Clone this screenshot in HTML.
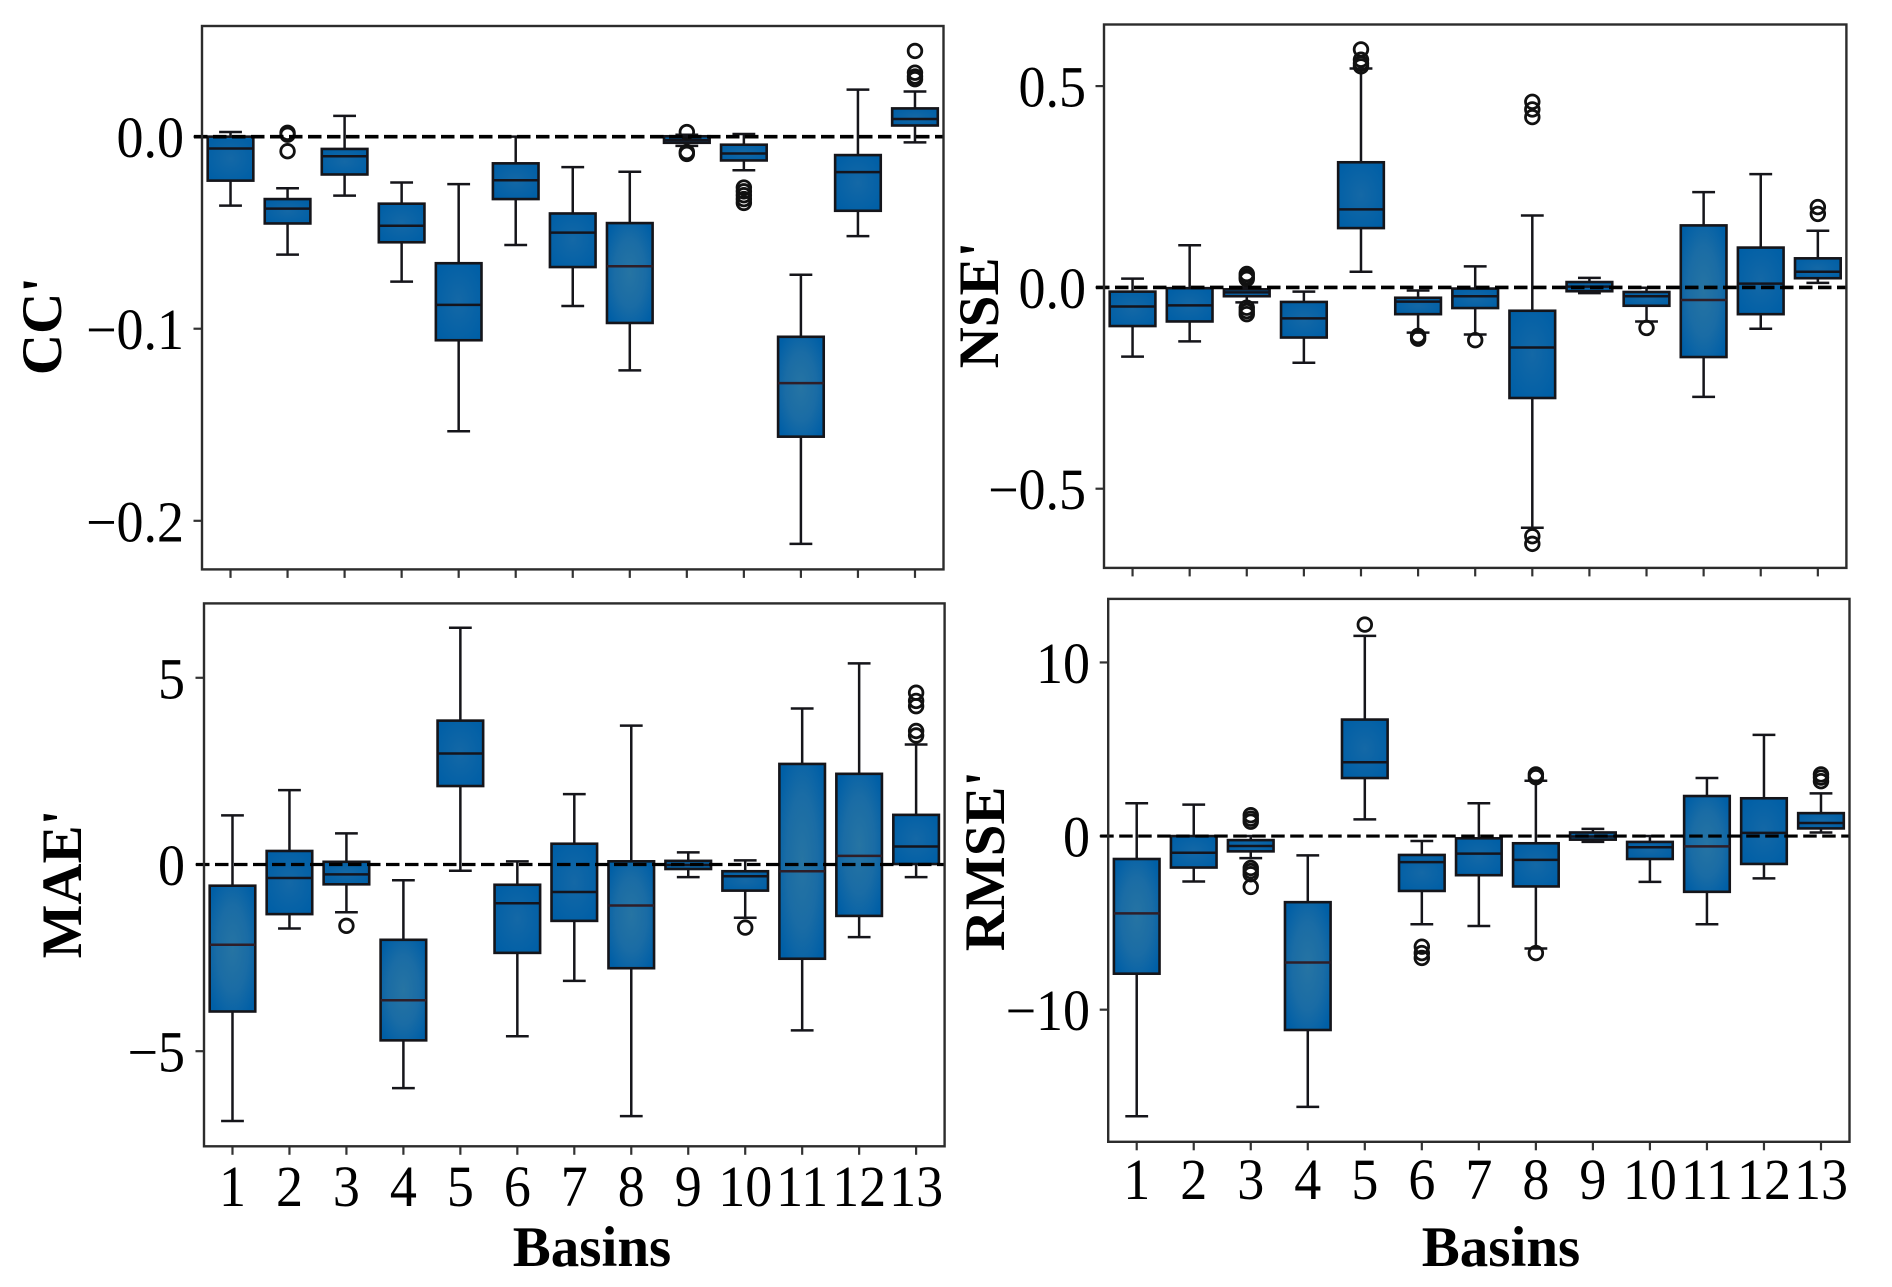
<!DOCTYPE html>
<html lang="en">
<head>
<meta charset="utf-8">
<title>Basin metric difference box plots</title>
<style>
html,body{margin:0;padding:0;background:#fff;}
svg{display:block;}
text{font-family:"Liberation Serif",serif;fill:#000;}
.tick-label{font-size:54px;}
.axis-title{font-size:57px;font-weight:bold;}
</style>
</head>
<body>
<svg id="chart" xmlns="http://www.w3.org/2000/svg" width="1892" height="1287" viewBox="0 0 1892 1287">
  <defs>
    <radialGradient id="box-fill-large" cx="50%" cy="50%" r="62%">
      <stop offset="0%" stop-color="#2674a3"/>
      <stop offset="55%" stop-color="#1a6ca5"/>
      <stop offset="100%" stop-color="#005fa6"/>
    </radialGradient>
    <radialGradient id="box-fill-small" cx="50%" cy="50%" r="62%">
      <stop offset="0%" stop-color="#1468a6"/>
      <stop offset="100%" stop-color="#005fa6"/>
    </radialGradient>
  </defs>
  <rect width="1892" height="1287" fill="#fff"/>
  <g id="panel-cc"></g>
  <g id="panel-nse"></g>
  <g id="panel-mae"></g>
  <g id="panel-rmse"></g>
  <text class="axis-title" text-anchor="middle" transform="translate(61 326) rotate(-90)">CC'</text>
  <text class="axis-title" text-anchor="middle" transform="translate(998 305) rotate(-90)">NSE'</text>
  <text class="axis-title" text-anchor="middle" transform="translate(81 884) rotate(-90)">MAE'</text>
  <text class="axis-title" text-anchor="middle" transform="translate(1004 861) rotate(-90)">RMSE'</text>
  <text class="axis-title" text-anchor="middle" x="592" y="1266">Basins</text>
  <text class="axis-title" text-anchor="middle" x="1501" y="1266">Basins</text>
</svg>
<script>
const categories = ['1','2','3','4','5','6','7','8','9','10','11','12','13'];

const ccTicks = [0, -0.1, -0.2];
const ccTickLabels = ['0.0', '−0.1', '−0.2'];
const ccWhiskerHigh = [0.0024, -0.0269, 0.0108, -0.0239, -0.0247, 0, -0.0159, -0.0183, 0.001, 0.0014, -0.0719, 0.0245, 0.0235];
const ccQ3 = [0, -0.0325, -0.0064, -0.0349, -0.0659, -0.0139, -0.04, -0.045, 0.0002, -0.0042, -0.1042, -0.0096, 0.0147];
const ccMedian = [-0.0062, -0.0375, -0.0102, -0.0464, -0.0876, -0.0227, -0.05, -0.0675, -0.0018, -0.0088, -0.1283, -0.0185, 0.0092];
const ccQ1 = [-0.0229, -0.0452, -0.0197, -0.055, -0.106, -0.0325, -0.0679, -0.097, -0.0032, -0.0124, -0.1562, -0.0386, 0.0058];
const ccWhiskerLow = [-0.0359, -0.0614, -0.0307, -0.0755, -0.1534, -0.0564, -0.0882, -0.1217, -0.0048, -0.0175, -0.212, -0.0518, -0.003];
const ccFliers = [[], [0.002, 0.001, -0.0076], [], [], [], [], [], [], [0.0024, -0.008, -0.009], [-0.0265, -0.0285, -0.0305, -0.0325, -0.0345], [], [], [0.0446, 0.0333, 0.0313, 0.0299]];

const nseTicks = [0.5, 0, -0.5];
const nseTickLabels = ['0.5', '0.0', '−0.5'];
const nseWhiskerHigh = [0.0219, 0.1046, 0, -0.0105, 0.5437, -0.0076, 0.0523, 0.1787, 0.0238, -0.001, 0.2367, 0.2814, 0.1407];
const nseQ3 = [-0.0105, -0.0019, -0.0048, -0.0361, 0.3108, -0.0257, -0.0029, -0.058, 0.0133, -0.0114, 0.154, 0.0989, 0.0722];
const nseMedian = [-0.0475, -0.0447, -0.0124, -0.077, 0.1939, -0.0352, -0.0219, -0.1492, 0.0019, -0.0219, -0.0314, 0.0095, 0.039];
const nseQ1 = [-0.096, -0.0846, -0.0219, -0.1245, 0.1473, -0.0665, -0.0513, -0.2747, -0.0095, -0.0456, -0.173, -0.0665, 0.0228];
const nseWhiskerLow = [-0.172, -0.134, -0.0371, -0.1873, 0.039, -0.1122, -0.1169, -0.597, -0.0143, -0.0846, -0.2719, -0.1027, 0.0114];
const nseFliers = [[], [], [0.0333, 0.0266, 0.021, -0.0504, -0.0589, -0.0665], [], [0.591, 0.5656, 0.556, 0.549], [-0.1207, -0.1274], [-0.1312], [0.461, 0.442, 0.423, -0.618, -0.637], [], [-0.1008], [], [], [0.1996, 0.1825]];

const maeTicks = [5, 0, -5];
const maeTickLabels = ['5', '0', '−5'];
const maeWhiskerHigh = [1.316, 1.993, 0.833, -0.423, 6.34, 0.085, 1.884, 3.72, 0.326, 0.109, 4.179, 5.386, 3.213];
const maeQ3 = [-0.568, 0.362, 0.072, -2.017, 3.853, -0.543, 0.556, 0.085, 0.097, -0.181, 2.693, 2.428, 1.329];
const maeMedian = [-2.15, -0.362, -0.266, -3.635, 2.971, -1.039, -0.737, -1.099, -0.012, -0.314, -0.181, 0.229, 0.483];
const maeQ1 = [-3.937, -1.329, -0.531, -4.71, 2.101, -2.367, -1.51, -2.778, -0.121, -0.7, -2.524, -1.377, 0.012];
const maeWhiskerLow = [-6.87, -1.715, -1.28, -5.99, -0.169, -4.6, -3.116, -6.74, -0.338, -1.425, -4.444, -1.944, -0.338];
const maeFliers = [[], [], [-1.643], [], [], [], [], [], [], [-1.69], [], [], [4.6, 4.38, 4.24, 3.575, 3.454]];

const rmseTicks = [10, 0, -10];
const rmseTickLabels = ['10', '0', '−10'];
const rmseWhiskerHigh = [1.891, 1.813, 0, -1.114, 11.53, -0.285, 1.891, 3.187, 0.415, 0, 3.342, 5.829, 2.461];
const rmseQ3 = [-1.321, 0, -0.233, -3.808, 6.71, -1.088, -0.13, -0.415, 0.207, -0.337, 2.306, 2.176, 1.321];
const rmseMedian = [-4.456, -0.959, -0.57, -7.28, 4.249, -1.503, -1.01, -1.373, -0.026, -0.648, -0.596, 0.181, 0.751];
const rmseQ1 = [-7.927, -1.813, -0.881, -11.17, 3.342, -3.161, -2.254, -2.902, -0.207, -1.321, -3.212, -1.606, 0.44];
const rmseWhiskerLow = [-16.14, -2.617, -1.269, -15.6, 0.959, -5.078, -5.18, -6.477, -0.337, -2.642, -5.078, -2.435, 0.207];
const rmseFliers = [[], [], [1.2, 1.0, 0.829, -1.84, -2.02, -2.2, -2.93], [], [12.18], [-6.37, -6.74, -7.02], [], [3.55, 3.39, -6.74], [], [], [], [], [3.55, 3.37, 3.16]];

const SVG_NS = 'http://www.w3.org/2000/svg';

function make(parent, tag) {
  const el = document.createElementNS(SVG_NS, tag);
  parent.appendChild(el);
  return el;
}

function drawLine(el, x1, y1, x2, y2, stroke, width) {
  el.setAttribute('x1', x1);
  el.setAttribute('y1', y1);
  el.setAttribute('x2', x2);
  el.setAttribute('y2', y2);
  el.setAttribute('stroke', stroke);
  el.setAttribute('stroke-width', width);
}

function drawPanel(groupId, prefix, frame, domain, series, showXLabels, xLabelBaseline, yLabelRight, dashWidth) {
  const group = document.getElementById(groupId);
  const step = (frame.right - frame.left) / categories.length;
  const xScale = i => frame.left + (i + 0.5) * step;
  const yScale = v => frame.bottom - (v - domain.min) / (domain.max - domain.min) * (frame.bottom - frame.top);
  const boxWidth = step * 0.8;
  const capWidth = step * 0.4;
  const edge = '#15151a';

  series.ticks.forEach((t, i) => {
    const y = yScale(t);
    const tick = make(group, 'line');
    
    
    drawLine(tick, frame.left - 8.5, y, frame.left, y, '#333', 2.2);
    const label = make(group, 'text');
    
    
    label.setAttribute('class', 'tick-label');
    label.setAttribute('text-anchor', 'end');
    label.setAttribute('transform', 'translate(' + yLabelRight + ' ' + (y + 20.5) + ') scale(1 1.07)');
    label.textContent = series.tickLabels[i];
  });

  categories.forEach((cat, i) => {
    const x = xScale(i);
    const tick = make(group, 'line');
    
    
    drawLine(tick, x, frame.bottom, x, frame.bottom + 8.5, '#333', 2.2);
    if (showXLabels) {
      const label = make(group, 'text');
      
      
      label.setAttribute('class', 'tick-label');
      label.setAttribute('text-anchor', 'middle');
      label.setAttribute('transform', 'translate(' + x + ' ' + xLabelBaseline + ') scale(1 1.07)');
      label.textContent = cat;
    }

    const item = make(group, 'g');
    
    

    const q3y = yScale(series.q3[i]);
    const q1y = yScale(series.q1[i]);
    const hiY = yScale(series.hi[i]);
    const loY = yScale(series.lo[i]);
    const medY = yScale(series.med[i]);

    const upper = make(item, 'line');
    
    
    drawLine(upper, x, q3y, x, hiY, edge, 2.5);
    const upperCap = make(item, 'line');
    
    
    drawLine(upperCap, x - capWidth / 2, hiY, x + capWidth / 2, hiY, edge, 2.5);
    const lower = make(item, 'line');
    
    
    drawLine(lower, x, q1y, x, loY, edge, 2.5);
    const lowerCap = make(item, 'line');
    
    
    drawLine(lowerCap, x - capWidth / 2, loY, x + capWidth / 2, loY, edge, 2.5);

    const box = make(item, 'rect');
    
    
    box.setAttribute('x', x - boxWidth / 2);
    box.setAttribute('y', q3y);
    box.setAttribute('width', boxWidth);
    box.setAttribute('height', q1y - q3y);
    box.setAttribute('fill', (q1y - q3y) > 90 ? 'url(#box-fill-large)' : 'url(#box-fill-small)');
    box.setAttribute('stroke', edge);
    box.setAttribute('stroke-width', 2.6);

    const median = make(item, 'line');
    
    
    drawLine(median, x - boxWidth / 2, medY, x + boxWidth / 2, medY, (q1y - q3y) > 90 ? '#2e1e28' : '#14141c', 2.5);

    series.fliers[i].forEach(v => {
      const flier = make(item, 'circle');
      
      
      flier.setAttribute('cx', x);
      flier.setAttribute('cy', yScale(v));
      flier.setAttribute('r', 6.8);
      flier.setAttribute('fill', 'none');
      flier.setAttribute('stroke', '#111');
      flier.setAttribute('stroke-width', 2.8);
    });
  });

  const zero = make(group, 'line');
  
  
  drawLine(zero, frame.left - 8, yScale(0), frame.right, yScale(0), '#000', dashWidth);
  zero.setAttribute('stroke-dasharray', '13.5 5.5');

  const border = make(group, 'rect');
  
  
  border.setAttribute('x', frame.left);
  border.setAttribute('y', frame.top);
  border.setAttribute('width', frame.right - frame.left);
  border.setAttribute('height', frame.bottom - frame.top);
  border.setAttribute('fill', 'none');
  border.setAttribute('stroke', '#2c2c2c');
  border.setAttribute('stroke-width', 2.4);
}

drawPanel('panel-cc', 'cc',
  {left: 202, right: 943.5, top: 26, bottom: 569.4},
  {min: -0.2253, max: 0.0576},
  {ticks: ccTicks, tickLabels: ccTickLabels, hi: ccWhiskerHigh, q3: ccQ3, med: ccMedian, q1: ccQ1, lo: ccWhiskerLow, fliers: ccFliers},
  false, 0, 184, 3.6);

drawPanel('panel-nse', 'nse',
  {left: 1104, right: 1846.4, top: 24.5, bottom: 567.9},
  {min: -0.6967, max: 0.653},
  {ticks: nseTicks, tickLabels: nseTickLabels, hi: nseWhiskerHigh, q3: nseQ3, med: nseMedian, q1: nseQ1, lo: nseWhiskerLow, fliers: nseFliers},
  false, 0, 1086, 3.6);

drawPanel('panel-mae', 'mae',
  {left: 204, right: 944.6, top: 603.4, bottom: 1146.3},
  {min: -7.547, max: 6.992},
  {ticks: maeTicks, tickLabels: maeTickLabels, hi: maeWhiskerHigh, q3: maeQ3, med: maeMedian, q1: maeQ1, lo: maeWhiskerLow, fliers: maeFliers},
  true, 1206, 185, 3.2);

drawPanel('panel-rmse', 'rmse',
  {left: 1108.2, right: 1849.5, top: 598.9, bottom: 1141.8},
  {min: -17.61, max: 13.66},
  {ticks: rmseTicks, tickLabels: rmseTickLabels, hi: rmseWhiskerHigh, q3: rmseQ3, med: rmseMedian, q1: rmseQ1, lo: rmseWhiskerLow, fliers: rmseFliers},
  true, 1199, 1090, 3.2);
</script>
</body>
</html>
